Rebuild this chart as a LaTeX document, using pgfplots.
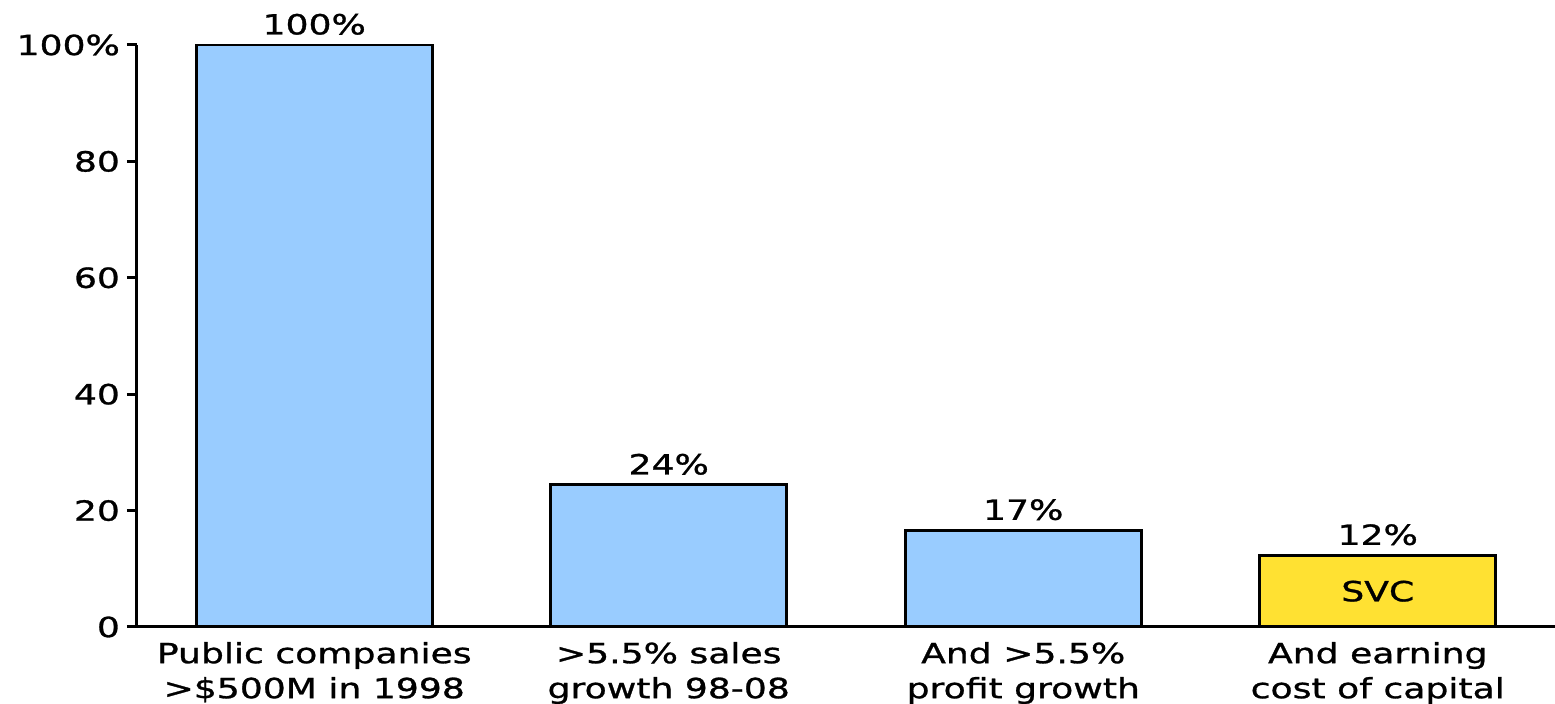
\documentclass[border=0pt]{standalone}
\usepackage{fontspec}
\setmainfont{DejaVu Sans}[FakeStretch=1.3,FakeBold=1]
\usepackage{pgfplots}
\pgfplotsset{compat=1.18}
\usetikzlibrary{calc}
\definecolor{barblue}{RGB}{153,204,255}
\definecolor{baryellow}{RGB}{255,225,50}
\begin{document}
\begin{tikzpicture}[font=\fontsize{13.9pt}{17.5pt}\selectfont]
\begin{axis}[name=ax,
  scale only axis, width=709pt, height=291pt,
  xmin=-0.5, xmax=3.5, ymin=0, ymax=100,
  axis x line*=bottom, axis y line*=left,
  axis line style={line width=1.5pt, black},
  xtick={0,1,2,3},
  xticklabels={{Public companies\\>\$500M in 1998},{>5.5\% sales\\growth 98-08},{And >5.5\%\\profit growth},{And earning\\cost of capital}},
  x tick label style={align=center, text depth=0pt, yshift=1pt},
  xtick style={draw=none},
  ytick={0,20,40,60,80,100}, yticklabels={0,20,40,60,80,100\%},
  tick align=outside, major tick length=5pt,
  ytick style={line width=1.5pt, black},
  /pgf/number format/assume math mode=true,
  ybar, bar width=0.667, bar shift=0pt,
  nodes near coords={\pgfmathprintnumber[fixed,precision=0]{\pgfplotspointmeta}\%},
  every node near coord/.append style={yshift=1pt},
]
\addplot[fill=barblue, draw=black, line width=1.5pt] coordinates {(0,100) (1,24.4) (2,16.6)};
\addplot[fill=baryellow, draw=black, line width=1.5pt] coordinates {(3,12.3)};
\node at (axis cs:3,6.15) {SVC};
\end{axis}
\pgfresetboundingbox
\path[use as bounding box] ($(ax.south west)+(-68.5pt,-38.5pt)$) rectangle ($(ax.north east)+(0pt,22.5pt)$);
\end{tikzpicture}
\end{document}
